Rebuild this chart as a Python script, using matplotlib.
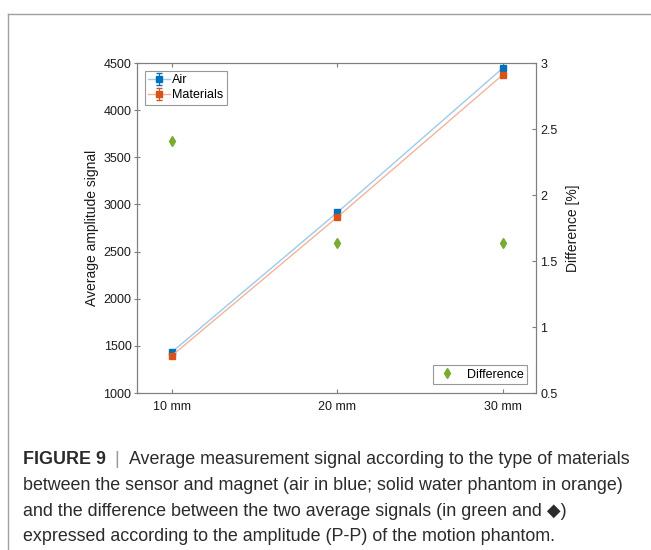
import matplotlib
matplotlib.use("Agg")
import matplotlib.pyplot as plt
from matplotlib.lines import Line2D

# --- data ---
amplitudes = ["10 mm", "20 mm", "30 mm"]
air_signal = [1433, 2915, 4447]
air_err = [12, 14, 13]
materials_signal = [1395, 2866, 4376]
materials_err = [12, 14, 13]
difference_pct = [2.41, 1.64, 1.635]

left_ticks = [1000, 1500, 2000, 2500, 3000, 3500, 4000, 4500]
right_ticks = [0.5, 1, 1.5, 2, 2.5, 3]
right_tick_labels = ["0.5", "1", "1.5", "2", "2.5", "3"]

caption_head = "FIGURE 9"
caption_first = "Average measurement signal according to the type of materials"
caption_lines = [
    "between the sensor and magnet (air in blue; solid water phantom in orange)",
    "and the difference between the two average signals (in green and \u25c6)",
    "expressed according to the amplitude (P-P) of the motion phantom.",
]

plt.rcParams["font.family"] = ["Liberation Sans", "DejaVu Sans"]

BLUE = "#0072BD"
ORANGE = "#D95319"
GREEN = "#77AC30"
SPINE = "#7f7f7f"
TXT = "#1a1a1a"
W, H = 651, 550

fig = plt.figure(figsize=(W / 100, H / 100), dpi=100)
ax = fig.add_axes([137 / W, 1 - 393 / H, (536 - 137) / W, (393 - 63) / H])
ax2 = ax.twinx()

x = list(range(len(amplitudes)))

ax.errorbar(x, air_signal, yerr=air_err, color="#9ccbec", lw=1.0,
            marker="s", ms=4.5, mfc=BLUE, mec=BLUE, ecolor=BLUE,
            elinewidth=0.8, capsize=2.5, label="Air", zorder=3)
ax.errorbar(x, materials_signal, yerr=materials_err, color="#f3b39b", lw=1.0,
            marker="s", ms=4.5, mfc=ORANGE, mec=ORANGE, ecolor=ORANGE,
            elinewidth=0.8, capsize=2.5, label="Materials", zorder=3)

ax2.plot(x, difference_pct, ls="none", marker="d", ms=5, color=GREEN,
         label="Difference")

ax.set_xlim(-0.21, 2.2)
ax.set_ylim(1000, 4500)
ax.set_yticks(left_ticks)
ax.set_xticks(x)
ax.set_xticklabels(amplitudes)
ax2.set_ylim(0.5, 3)
ax2.set_yticks(right_ticks)
ax2.set_yticklabels(right_tick_labels)

for a in (ax, ax2):
    for s in a.spines.values():
        s.set_color(SPINE)
        s.set_linewidth(0.8)
ax.tick_params(axis="x", direction="in", top=True, length=3, color=SPINE,
               labelsize=9, labelcolor=TXT, pad=6)
ax.tick_params(axis="y", direction="inout", length=4, color=SPINE,
               labelsize=9, labelcolor=TXT, pad=2)
ax2.tick_params(axis="y", direction="in", length=3, color=SPINE,
                labelsize=9, labelcolor=TXT, pad=3)

ax.set_ylabel("Average amplitude signal", fontsize=10, color=TXT, labelpad=3)
ax2.set_ylabel("Difference [%]", fontsize=10, color=TXT, labelpad=6)

leg1 = ax.legend(loc="upper left", fontsize=9, frameon=True, fancybox=False,
                 handlelength=1.7, handletextpad=0.2, borderpad=0.3,
                 labelspacing=0.25, borderaxespad=0.6)
leg1.get_frame().set_edgecolor(SPINE)
leg1.get_frame().set_linewidth(0.8)
leg2 = ax2.legend(loc="lower right", fontsize=9, frameon=True, fancybox=False,
                  handlelength=1.6, handletextpad=0.8, borderpad=0.3,
                  borderaxespad=0.7)
leg2.get_frame().set_edgecolor(SPINE)
leg2.get_frame().set_linewidth(0.8)

# page frame around the figure panel
fig.add_artist(Line2D([8 / W, 1], [1 - 14 / H, 1 - 14 / H],
                      transform=fig.transFigure, color="#a0a0a0", lw=1.0))
fig.add_artist(Line2D([8 / W, 8 / W], [0, 1 - 14 / H],
                      transform=fig.transFigure, color="#a0a0a0", lw=1.0))

# caption: fit font size so the first line spans the measured width
renderer = fig.canvas.get_renderer()
cap_color = "#2b2b2b"
probe = fig.text(0, 0, caption_lines[0], fontsize=10)
cap_size = 10 * 603 / probe.get_window_extent(renderer).width
probe.remove()

x0 = 23 / W
y_first = 1 - 460 / H
t1 = fig.text(x0, y_first, caption_head, fontsize=cap_size, fontweight="bold",
              color=cap_color, va="center")
w1 = t1.get_window_extent(renderer).width / W
fig.text(x0 + w1 + 11 / W, y_first, "|", fontsize=cap_size, color="#999999",
         va="center", ha="center")
fig.text(129 / W, y_first, caption_first, fontsize=cap_size, color=cap_color,
         va="center")
for i, line in enumerate(caption_lines):
    fig.text(x0, y_first - (i + 1) * 25.5 / H, line, fontsize=cap_size,
             color=cap_color, va="center")

fig.savefig("out.png", dpi=100)
